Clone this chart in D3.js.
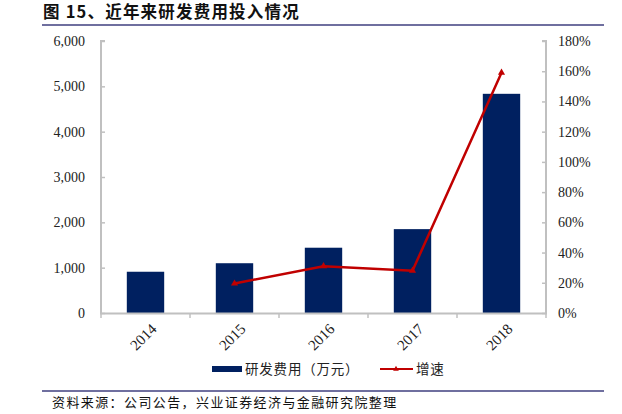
<!DOCTYPE html>
<html><head><meta charset="utf-8">
<script src="https://cdn.jsdelivr.net/npm/d3@7/dist/d3.min.js"></script>
<style>body{margin:0;background:#fff}svg{display:block}</style>
</head><body><svg id="c" width="622" height="414"></svg>
<script>
const years = ["2014","2015","2016","2017","2018"];
const rdCost = [910, 1098, 1440, 1850, 4835];
const growth = [null, 19.5, 31, 28, 159];
const leftTicks = [0,1000,2000,3000,4000,5000,6000];
const rightTicks = [0,20,40,60,80,100,120,140,160,180];
const title = "图 15、近年来研发费用投入情况";
const source = "资料来源：公司公告，兴业证券经济与金融研究院整理";
const seriesNames = ["研发费用（万元）","增速"];

const svg = d3.select("#c");
const serif = "'Liberation Serif','DejaVu Serif',serif";
const cjk = "'Noto Sans CJK SC','Noto Sans CJK JP',sans-serif";
const L=101, R=546, T=41, B=313;
const x = d3.scaleBand().domain(years).range([L,R]).paddingInner(0.58).paddingOuter(0.29);
const y = d3.scaleLinear().domain([0,6000]).range([B,T]);
const y2 = d3.scaleLinear().domain([0,180]).range([B,T]);
const grey = "#c0c0c0";

// title
svg.append("text").attr("x",43).attr("y",18).attr("font-family",cjk).attr("font-weight","bold")
  .attr("font-size",16.5).attr("letter-spacing",1.2).attr("fill","#111").text(title);
svg.append("line").attr("x1",42).attr("x2",604).attr("y1",25).attr("y2",25).attr("stroke","#3f3f7f").attr("stroke-width",1.5);
svg.append("line").attr("x1",42).attr("x2",604).attr("y1",391).attr("y2",391).attr("stroke","#3f3f7f").attr("stroke-width",1.5);
svg.append("text").attr("x",52).attr("y",407).attr("font-family",cjk).attr("font-size",13).attr("letter-spacing",1.4).attr("fill","#111").text(source);

// bars
svg.append("g").selectAll("rect").data(years).join("rect")
  .attr("x",d=>x(d)).attr("width",x.bandwidth())
  .attr("y",(d,i)=>y(rdCost[i])).attr("height",(d,i)=>B-y(rdCost[i]))
  .attr("fill","#002060");

// axes
const ga = svg.append("g").attr("transform",`translate(${L},0)`)
  .call(d3.axisRight(y).tickValues(leftTicks).tickSize(4).tickFormat(()=>""));
const gb = svg.append("g").attr("transform",`translate(${R},0)`)
  .call(d3.axisLeft(y2).tickValues(rightTicks).tickSize(4).tickFormat(()=>""));
[ga,gb].forEach(g=>{g.select(".domain").attr("stroke",grey).attr("stroke-width",2);
  g.selectAll(".tick line").attr("stroke",grey).attr("stroke-width",1.5);});
ga.select(".domain").attr("d",`M4,${T}H0V${B}`);
gb.select(".domain").attr("d",`M-4,${T}H0V${B}`);

svg.append("g").selectAll("text").data(leftTicks).join("text")
  .attr("x",85).attr("y",d=>y(d)+5).attr("text-anchor","end")
  .attr("font-family",serif).attr("font-size",14).attr("fill","#222").text(d=>d3.format(",")(d));
svg.append("g").selectAll("text").data(rightTicks).join("text")
  .attr("x",558).attr("y",d=>y2(d)+5).attr("text-anchor","start")
  .attr("font-family",serif).attr("font-size",14).attr("fill","#222").text(d=>d+"%");

// bottom axis
svg.append("line").attr("x1",L-1).attr("x2",R+1).attr("y1",B+0.5).attr("y2",B+0.5).attr("stroke",grey).attr("stroke-width",2);
const step = x.step();
const bounds = d3.range(years.length+1).map(i=>L+i*step);
svg.append("g").selectAll("line").data(bounds).join("line")
  .attr("x1",d=>d).attr("x2",d=>d).attr("y1",B).attr("y2",B+5).attr("stroke",grey).attr("stroke-width",1.5);
svg.append("g").selectAll("text").data(years).join("text")
  .attr("transform",d=>`translate(${x(d)+x.bandwidth()/2+12},${B+17}) rotate(-45)`)
  .attr("text-anchor","end").attr("font-family",serif).attr("font-size",15).attr("fill","#222").text(d=>d);

// growth line
const pts = years.map((d,i)=>({d,v:growth[i]})).filter(p=>p.v!=null);
const line = d3.line().x(p=>x(p.d)+x.bandwidth()/2).y(p=>y2(p.v));
svg.append("path").datum(pts).attr("d",line).attr("fill","none").attr("stroke","#c00000").attr("stroke-width",2.5);
const tri = d3.symbol().type(d3.symbolTriangle).size(22);
svg.append("g").selectAll("path").data(pts).join("path")
  .attr("transform",p=>`translate(${x(p.d)+x.bandwidth()/2},${y2(p.v)})`)
  .attr("d",tri).attr("fill","#c00000");

// legend
svg.append("rect").attr("x",212).attr("y",366).attr("width",30).attr("height",6).attr("fill","#002060");
svg.append("text").attr("x",245).attr("y",374).attr("font-family",cjk).attr("font-size",13.5).attr("letter-spacing",0.8).attr("fill","#222").text(seriesNames[0]);
svg.append("line").attr("x1",380).attr("x2",413).attr("y1",369).attr("y2",369).attr("stroke","#c00000").attr("stroke-width",2);
svg.append("path").attr("transform","translate(396,369)").attr("d",d3.symbol().type(d3.symbolTriangle).size(14)).attr("fill","#c00000");
svg.append("text").attr("x",416).attr("y",374).attr("font-family",cjk).attr("font-size",13.5).attr("letter-spacing",0.8).attr("fill","#222").text(seriesNames[1]);
</script></body></html>
